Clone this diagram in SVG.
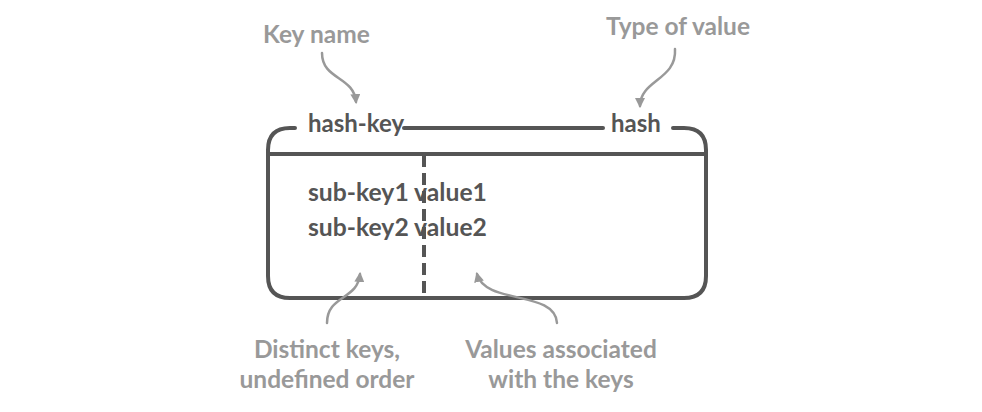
<svg xmlns="http://www.w3.org/2000/svg" width="982" height="412" viewBox="0 0 982 412">
<defs>
<style>
.box{fill:none;stroke:#555;stroke-width:4;stroke-linecap:round;stroke-linejoin:round}
.dash{stroke:#555;stroke-width:4;stroke-dasharray:12,6}
.lbl{font-family:Lato,"Liberation Sans",sans-serif;font-weight:bold;font-size:24px;fill:#555}
.sub{font-family:Lato,"Liberation Sans",sans-serif;font-weight:bold;font-size:24.7px;fill:#555}
.note{font-family:Lato,"Liberation Sans",sans-serif;font-weight:bold;font-size:24.5px;fill:#999}
.arr{fill:none;stroke:#999;stroke-width:2.5;stroke-linecap:round;marker-end:url(#ah)}
</style>
<marker id="ah" viewBox="0 0 10 10" refX="8" refY="5" markerWidth="4" markerHeight="4" orient="auto">
<path d="M0,0 L10,5 L0,10 z" fill="#999"/>
</marker>
</defs>
<rect width="982" height="412" fill="#fff"/>
<g id="hash-box">
<path class="box" d="M295,128 L290,128 Q268,128 268,150 L268,276 Q268,298 290,298 L684,298 Q706,298 706,276 L706,150 Q706,128 684,128 L673,128"/>
<line class="box" x1="404" y1="128" x2="603" y2="128"/>
<line class="box" x1="268" y1="154" x2="706" y2="154"/>
<line class="dash" x1="424" y1="155" x2="424" y2="297"/>
<text class="lbl" x="308" y="132">hash-key</text>
<text class="lbl" x="611" y="132">hash</text>
<text class="sub" x="308" y="201">sub-key1 value1</text>
<text class="sub" x="308" y="236">sub-key2 value2</text>
</g>
<g id="key-name">
<text class="note" x="263" y="43">Key name</text>
</g>
<g id="type-of-value">
<text class="note" x="606" y="35">Type of value</text>
</g>
<g id="distinct-keys">
<text class="note" x="327" y="358" text-anchor="middle">Distinct keys,</text>
<text class="note" x="327" y="388" text-anchor="middle">undefined order</text>
</g>
<g id="values-assoc">
<text class="note" x="561" y="358" text-anchor="middle">Values associated</text>
<text class="note" x="561" y="388" text-anchor="middle">with the keys</text>
</g>
<g id="connectors">
<path class="arr" d="M322,53 C322,80 354,76 356,102"/>
<path class="arr" d="M675,49 C677,80 640,80 640,106"/>
<path class="arr" d="M327,323 C327,295 358,300 360,274"/>
<path class="arr" d="M557,323 C555,290 485,305 477,274"/>
</g>
</svg>
